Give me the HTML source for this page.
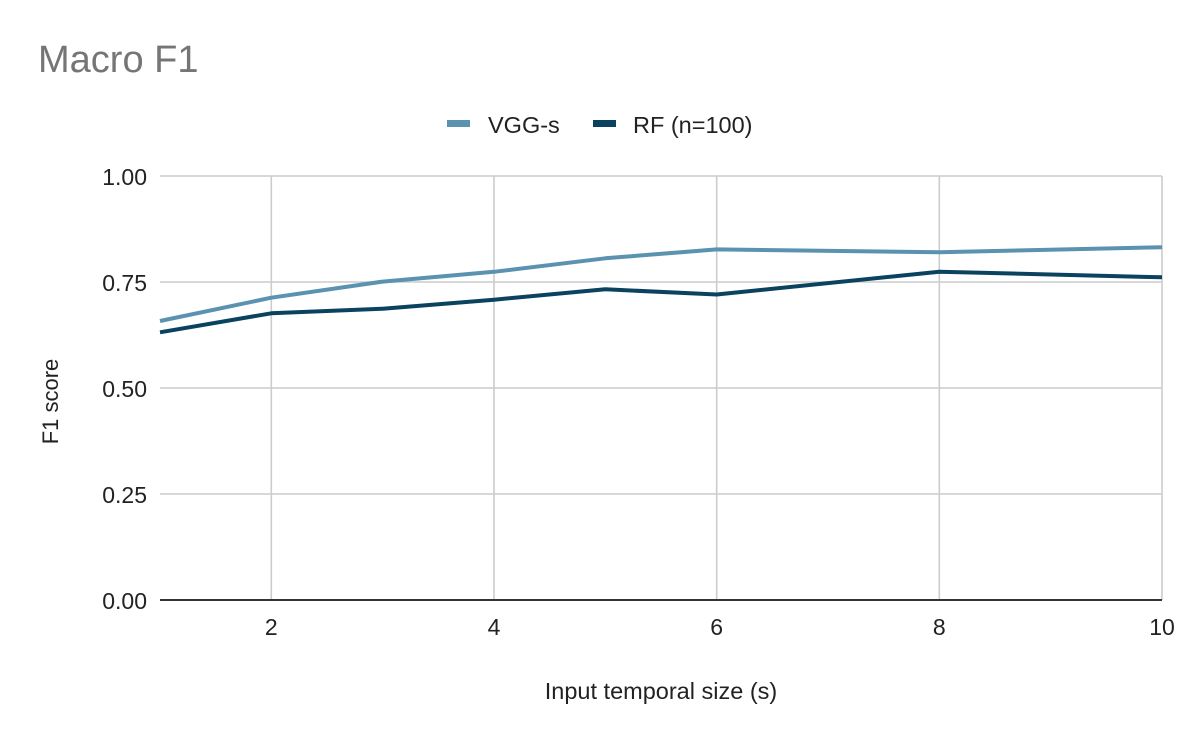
<!DOCTYPE html>
<html>
<head>
<meta charset="utf-8">
<style>
  html, body { margin: 0; padding: 0; background: #ffffff; }
  svg { display: block; }
  text { font-family: "Liberation Sans", Arial, sans-serif; }
</style>
</head>
<body>
<svg width="1200" height="742" viewBox="0 0 1200 742" xmlns="http://www.w3.org/2000/svg">
  <rect x="0" y="0" width="1200" height="742" fill="#ffffff"/>

  <!-- Title -->
  <text x="38" y="72" font-size="38" fill="#757575">Macro F1</text>

  <!-- Legend -->
  <rect x="447" y="120" width="23" height="7" fill="#5a92b0"/>
  <text x="488" y="133" font-size="23.5" fill="#222222">VGG-s</text>
  <rect x="593" y="120" width="23" height="7" fill="#0b425f"/>
  <text x="633" y="133" font-size="23.5" fill="#222222">RF (n=100)</text>

  <!-- Horizontal gridlines -->
  <g stroke="#cccccc" stroke-width="1.6">
    <line x1="160" y1="176" x2="1162" y2="176"/>
    <line x1="160" y1="282" x2="1162" y2="282"/>
    <line x1="160" y1="388" x2="1162" y2="388"/>
    <line x1="160" y1="494" x2="1162" y2="494"/>
  </g>
  <!-- Vertical gridlines -->
  <g stroke="#cccccc" stroke-width="1.6">
    <line x1="271.3" y1="176" x2="271.3" y2="600"/>
    <line x1="494" y1="176" x2="494" y2="600"/>
    <line x1="716.7" y1="176" x2="716.7" y2="600"/>
    <line x1="939.3" y1="176" x2="939.3" y2="600"/>
    <line x1="1162" y1="176" x2="1162" y2="600"/>
  </g>

  <!-- X axis line -->
  <line x1="160" y1="600" x2="1162" y2="600" stroke="#333333" stroke-width="2"/>

  <!-- Y tick labels -->
  <g font-size="23" fill="#222222" text-anchor="end">
    <text x="147" y="185">1.00</text>
    <text x="147" y="291">0.75</text>
    <text x="147" y="397">0.50</text>
    <text x="147" y="503">0.25</text>
    <text x="147" y="609">0.00</text>
  </g>

  <!-- X tick labels -->
  <g font-size="23" fill="#222222" text-anchor="middle">
    <text x="271.3" y="635">2</text>
    <text x="494" y="635">4</text>
    <text x="716.7" y="635">6</text>
    <text x="939.3" y="635">8</text>
    <text x="1162" y="635">10</text>
  </g>

  <!-- Axis titles -->
  <text x="661" y="699" font-size="23.5" fill="#222222" text-anchor="middle">Input temporal size (s)</text>
  <text transform="translate(58,401.5) rotate(-90)" font-size="22" fill="#222222" text-anchor="middle">F1 score</text>

  <!-- Series: VGG-s -->
  <polyline fill="none" stroke="#5a92b0" stroke-width="4" stroke-linejoin="round" stroke-linecap="butt"
    points="160,321 271.3,297.7 382.7,281.6 494,271.8 605.3,258.3 716.7,249.4 939.3,252.3 1162,247.2"/>

  <!-- Series: RF (n=100) -->
  <polyline fill="none" stroke="#0b425f" stroke-width="4" stroke-linejoin="round" stroke-linecap="butt"
    points="160,332.3 271.3,313.3 382.7,308.7 494,299.7 605.3,289.3 716.7,294.5 939.3,271.7 1162,277.3"/>
</svg>
</body>
</html>
